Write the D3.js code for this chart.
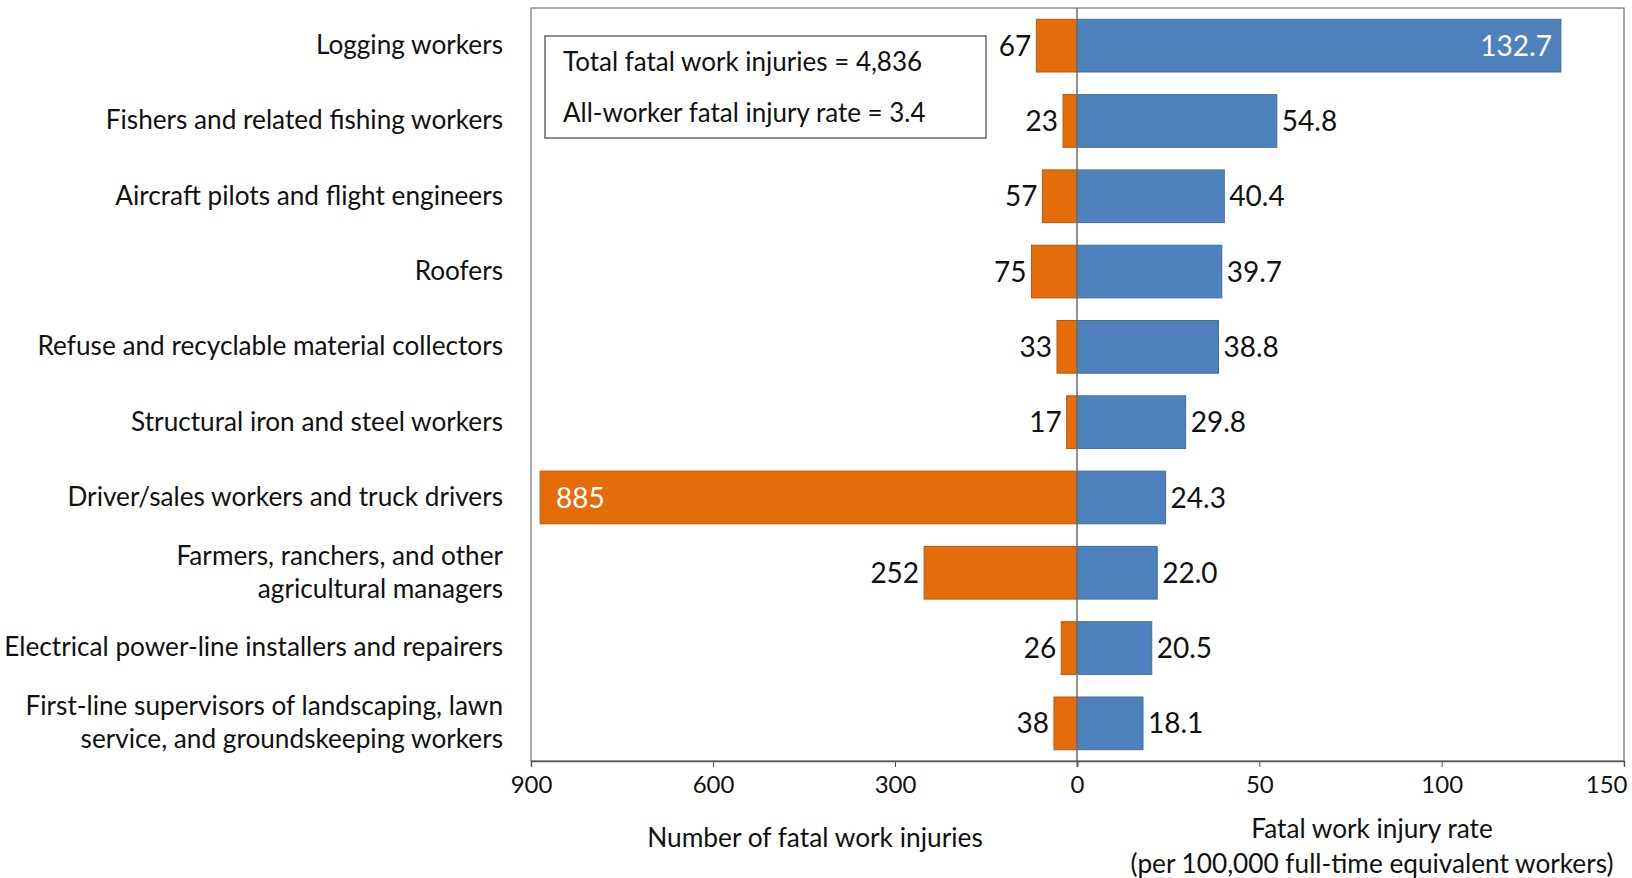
<!DOCTYPE html>
<html>
<head>
<meta charset="utf-8">
<script src="https://cdn.jsdelivr.net/npm/d3@7"></script>
<style>
  html, body { margin: 0; padding: 0; background: #fff; }
  svg { display: block; font-family: Lato, "Open Sans", sans-serif; }
</style>
</head>
<body>
<svg id="chart" width="1632" height="878"></svg>
<script>
const categories = [
  ["Logging workers"],
  ["Fishers and related fishing workers"],
  ["Aircraft pilots and flight engineers"],
  ["Roofers"],
  ["Refuse and recyclable material collectors"],
  ["Structural iron and steel workers"],
  ["Driver/sales workers and truck drivers"],
  ["Farmers, ranchers, and other", "agricultural managers"],
  ["Electrical power-line installers and repairers"],
  ["First-line supervisors of landscaping, lawn", "service, and groundskeeping workers"]
];
const fatalCounts = [67, 23, 57, 75, 33, 17, 885, 252, 26, 38];
const fatalRates = [132.7, 54.8, 40.4, 39.7, 38.8, 29.8, 24.3, 22.0, 20.5, 18.1];
const countTicks = [900, 600, 300, 0];
const rateTicks = [0, 50, 100, 150];
const noteLines = ["Total fatal work injuries = 4,836", "All-worker fatal injury rate = 3.4"];
const countTitle = "Number of fatal work injuries";
const rateTitle = ["Fatal work injury rate", "(per 100,000 full-time equivalent workers)"];

(function () {
const svg = d3.select("#chart");
const pL = 531, pR = 1624, pT = 8, pB = 761, zero = 1077;

const xCount = d3.scaleLinear().domain([900, 0]).range([pL, zero]);
const xRate = d3.scaleLinear().domain([0, 150]).range([zero, pR]);
const y = d3.scaleBand().domain(d3.range(categories.length)).range([pT, pB]).paddingInner(0.3).paddingOuter(0.15);

const orange = "#E46C0A", orangeEdge = "#B65A10";
const blue = "#4F81BD", blueEdge = "#41719C";

svg.append("rect").attr("x", pL).attr("y", pT).attr("width", pR - pL).attr("height", pB - pT)
  .attr("fill", "none").attr("stroke", "#7f7f7f").attr("stroke-width", 1.3);

svg.append("g").selectAll("rect").data(fatalCounts).join("rect")
  .attr("x", d => xCount(d)).attr("width", d => zero - xCount(d))
  .attr("y", (d, i) => y(i)).attr("height", y.bandwidth())
  .attr("fill", orange).attr("stroke", orangeEdge).attr("stroke-width", 1);

svg.append("g").selectAll("rect").data(fatalRates).join("rect")
  .attr("x", zero).attr("width", d => xRate(d) - zero)
  .attr("y", (d, i) => y(i)).attr("height", y.bandwidth())
  .attr("fill", blue).attr("stroke", blueEdge).attr("stroke-width", 1);

svg.append("line").attr("x1", zero).attr("x2", zero).attr("y1", pT).attr("y2", pB)
  .attr("stroke", "#6f6f6f").attr("stroke-width", 1.5);

const valSize = 28;
svg.append("g").selectAll("text").data(fatalCounts).join("text")
  .attr("x", d => d > 500 ? xCount(d) + 16 : xCount(d) - 5)
  .attr("y", (d, i) => y(i) + y.bandwidth() / 2)
  .attr("dy", "0.36em")
  .attr("text-anchor", d => d > 500 ? "start" : "end")
  .attr("fill", d => d > 500 ? "#fff" : "#111")
  .attr("font-size", valSize)
  .text(d => d3.format(",")(d));

svg.append("g").selectAll("text").data(fatalRates).join("text")
  .attr("x", d => d > 100 ? xRate(d) - 9 : xRate(d) + 5)
  .attr("y", (d, i) => y(i) + y.bandwidth() / 2)
  .attr("dy", "0.36em")
  .attr("text-anchor", d => d > 100 ? "end" : "start")
  .attr("fill", d => d > 100 ? "#fff" : "#111")
  .attr("font-size", valSize)
  .text(d => d3.format(".1f")(d));

const catSize = 26.2;
const catG = svg.append("g");
categories.forEach((lines, i) => {
  const cy = y(i) + y.bandwidth() / 2 - 1;
  const lh = 33;
  lines.forEach((ln, j) => {
    catG.append("text")
      .attr("x", 503)
      .attr("y", cy + (j - (lines.length - 1) / 2) * lh)
      .attr("dy", "0.36em")
      .attr("text-anchor", "end")
      .attr("fill", "#111")
      .attr("font-size", catSize)
      .text(ln);
  });
});

const axisCount = d3.axisBottom(xCount).tickValues(countTicks.filter(d => !rateTicks.includes(d))).tickSize(6).tickFormat(d3.format("d"));
const axisRate = d3.axisBottom(xRate).tickValues(rateTicks).tickSize(6).tickFormat(d3.format("d"));
[axisCount, axisRate].forEach(ax => {
  const g = svg.append("g").attr("transform", `translate(0,${pB})`).call(ax);
  g.select(".domain").attr("stroke", "#555").attr("stroke-width", 1.5);
  g.selectAll(".tick line").attr("stroke", "#555");
  g.selectAll(".tick text").attr("font-size", 24).attr("fill", "#111").attr("font-family", "Lato, sans-serif")
    .attr("y", 15).attr("dy", "0.71em");
});
svg.selectAll(".tick text").filter(d => d === 150).attr("text-anchor", "end").attr("dx", 3);

svg.append("text").attr("x", 815).attr("y", 838).attr("dy", "0.36em").attr("text-anchor", "middle")
  .attr("font-size", 26.3).attr("fill", "#111").text(countTitle);
rateTitle.forEach((t, j) => {
  svg.append("text").attr("x", 1372).attr("y", 829 + j * 35).attr("dy", "0.36em").attr("text-anchor", "middle")
    .attr("font-size", 26.2).attr("fill", "#111").text(t);
});

svg.append("rect").attr("x", 545).attr("y", 36).attr("width", 441).attr("height", 102)
  .attr("fill", "#fff").attr("stroke", "#444").attr("stroke-width", 1.2);
noteLines.forEach((t, j) => {
  svg.append("text").attr("x", 563).attr("y", 62 + j * 51).attr("dy", "0.36em")
    .attr("font-size", 26).attr("fill", "#111").text(t);
});
})();
</script>
</body>
</html>
